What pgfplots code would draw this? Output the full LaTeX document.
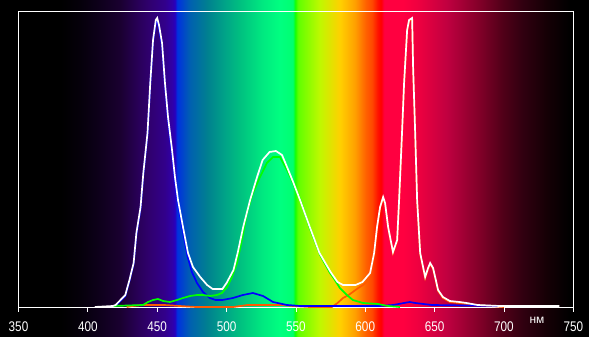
\documentclass[border=0pt]{standalone}
\usepackage{fontspec}
\setmainfont{Liberation Sans}
\newfontfamily\tickfont[FakeStretch=0.84]{Liberation Sans}
\usepackage{pgfplots}
\pgfplotsset{compat=1.18}

\definecolor{k0}{RGB}{0,0,0}
\definecolor{k1}{RGB}{5,0,10}
\definecolor{k2}{RGB}{14,0,28}
\definecolor{k3}{RGB}{26,0,48}
\definecolor{k4}{RGB}{42,0,92}
\definecolor{k5}{RGB}{48,0,112}
\definecolor{k6}{RGB}{50,0,140}
\definecolor{k7}{RGB}{48,0,168}
\definecolor{k8}{RGB}{40,0,190}
\definecolor{b1}{RGB}{0,48,224}
\definecolor{b2}{RGB}{0,96,176}
\definecolor{b3}{RGB}{0,128,144}
\definecolor{b4}{RGB}{0,160,136}
\definecolor{b5}{RGB}{0,192,128}
\definecolor{g1}{RGB}{0,232,128}
\definecolor{g2}{RGB}{0,255,128}
\definecolor{g3}{RGB}{0,255,112}
\definecolor{g4}{RGB}{16,255,0}
\definecolor{g5}{RGB}{96,255,0}
\definecolor{y1}{RGB}{192,248,0}
\definecolor{y2}{RGB}{255,208,0}
\definecolor{y3}{RGB}{255,160,0}
\definecolor{o1}{RGB}{255,96,0}
\definecolor{o2}{RGB}{255,72,0}
\definecolor{r1}{RGB}{255,16,0}
\definecolor{r2}{RGB}{255,0,0}
\definecolor{r3}{RGB}{255,0,64}
\definecolor{r4}{RGB}{240,0,64}
\definecolor{r5}{RGB}{192,0,64}
\definecolor{r6}{RGB}{128,0,40}
\definecolor{r7}{RGB}{80,0,24}
\definecolor{r8}{RGB}{48,0,16}
\definecolor{r9}{RGB}{21,0,5}
\definecolor{curveorange}{RGB}{255,90,0}
\definecolor{curvegreen}{RGB}{0,255,0}
\definecolor{curveblue}{RGB}{0,0,255}

\pgfdeclarehorizontalshading{spectrum}{337bp}{%
color(0bp)=(k0); color(60bp)=(k0); color(80bp)=(k1); color(100bp)=(k2);
color(120bp)=(k3); color(140bp)=(k4); color(150bp)=(k5); color(165bp)=(k6);
color(172bp)=(k7); color(175bp)=(k8); color(177bp)=(b1); color(190bp)=(b2);
color(207bp)=(b3); color(223bp)=(b4); color(240bp)=(b5); color(262bp)=(g1);
color(280bp)=(g2); color(293bp)=(g3); color(295bp)=(g4); color(298bp)=(g5);
color(320bp)=(y1); color(340bp)=(y2); color(355bp)=(y3); color(366bp)=(o1);
color(372bp)=(o2); color(378bp)=(r1); color(381bp)=(r2); color(384bp)=(r3);
color(403bp)=(r3); color(417bp)=(r4); color(447bp)=(r5); color(480bp)=(r6);
color(503bp)=(r7); color(523bp)=(r8); color(547bp)=(r9); color(570bp)=(k0);
color(589bp)=(k0)}

\begin{document}
\begin{tikzpicture}
\path[use as bounding box] (0bp,0bp) rectangle (589bp,337bp);
\node[anchor=south west, inner sep=0pt, outer sep=0pt] at (0bp,0bp) {\pgfuseshading{spectrum}};
\begin{axis}[
  at={(18.5bp,30bp)}, anchor=south west,
  width=554.8bp, height=296bp, scale only axis,
  xmin=350, xmax=750, ymin=0, ymax=296,
  xtick={350,400,...,750}, ytick=\empty,
  xtick pos=bottom, tick align=outside,
  major tick length=4.5bp,
  xtick style={white, line width=0.8bp},
  axis line style={white, line width=0.9bp},
  /pgf/number format/assume math mode=true,
  /pgf/number format/1000 sep={},
  xticklabel style={white, font=\tickfont\fontsize{14}{16}\selectfont, anchor=center, yshift=-15.5bp},
  clip=false,
]
% red/orange channel
\addplot[curveorange, line width=1.7bp, sharp plot] coordinates {
(428,0)(432,1)(440,2)(455,2)(466,1)(478,0)(505,0)(510,1)(515,2)(540,2)(548,1)(560,0)
(576,0)(580,4)(584,9)(588,12)(591,15)(595,19)(598.4,22)(601,25)(603.5,33)(606.4,53)
(608.5,79)(610.7,99)(612.9,109)(614.3,103)(616.5,79)(620,54)(623,66)(624.4,106)
(626.5,173)(628,223)(630.2,276)(631.6,286)(633.8,288)(634.5,239)(636,173)(637.4,106)
(639.6,53)(641.7,39)(643.2,29)(645.3,38)(646.8,43)(648.9,38)(650.4,29)(652.5,16)
(656,9)(661,5)(668,4)(673,3)(681,2)(690,1)(700,0)};
% blue channel
\addplot[curveblue, line width=1.7bp, sharp plot] coordinates {
(420,1)(427,11)(430,26)(433,43)(435,72)(438,98)(440,132)(443,172)(445,222)(447,265)
(449,284)(450,286)(451.3,279)(453.5,261)(455.6,222)(457.8,187)(460.7,153)(462.8,126)
(465,103)(468.6,75)(472,50)(475,35)(478.7,24)(483,15)(488,9)(492,7)(497,7)(504.6,9)
(511.8,12)(519,14)(526.3,11)(533.5,5)(543.6,2)(553,1)(610,1)(620,2)(628,4)(632,5)
(636,4)(648,2)(697,1)};
% green channel
\addplot[curvegreen, line width=1.7bp, sharp plot] coordinates {
(418,1)(439.8,2)(443.4,5)(447,7)(450.6,8)(454.2,6)(459.2,5)(464.3,7)(468.6,9)(473.7,11)
(478.7,12)(483,12)(488.1,11)(493.1,12)(496.7,14)(500.3,20)(503.9,30)(507.5,44)(511.1,67)
(514.7,94)(519,114)(524.1,130)(529.1,144)(533.5,150)(538.5,150)(543.6,137)(547.9,124)
(553,108)(560.2,78)(567.4,52)(574.6,34)(576.7,30)(581.7,19)(586.7,12)(591.1,7)
(598.4,4)(609.2,3)(616.5,1)(625,0)};
% total (white)
\addplot[white, line width=1.7bp, sharp plot] coordinates {
(405,0)(418,1)(420,2)(427,12)(430,27)(433,44)(435,74)(438,100)(440,134)(443,174)
(445,224)(447,267)(449,287)(450,289)(451.3,282)(453.5,264)(455.6,224)(457.8,190)
(460.7,157)(462.8,130)(465,107)(468.6,80)(472.2,54)(475.8,40)(481,30)(486,22)(490,18)
(497,18)(500,24)(505,37)(508,54)(512,80)(517,107)(522,130)(526,147)(531,155)(535.6,156)
(540,152)(543.6,140)(548,125)(553,107)(560,80)(567,54)(575,35)(580,25)(584,22)(593,22)
(598,25)(603.5,34)(606.4,54)(608.5,80)(610.7,100)(612.9,110)(614.3,104)(616.5,80)
(620,55)(623,67)(624.4,107)(626.5,174)(628,224)(630.2,277)(631.6,287)(633.8,289)
(634.5,240)(636,174)(637.4,107)(639.6,54)(641.7,40)(643.2,30)(645.3,39)(646.8,44)
(648.9,39)(650.4,30)(652.5,17)(656,10)(661,6)(668,5)(673,4)(681,2)(697,1)(740,1)};
\end{axis}
\node[white, font=\fontsize{12}{13}\selectfont, inner sep=0pt] at (537bp,16.5bp) {нм};
\end{tikzpicture}
\end{document}
